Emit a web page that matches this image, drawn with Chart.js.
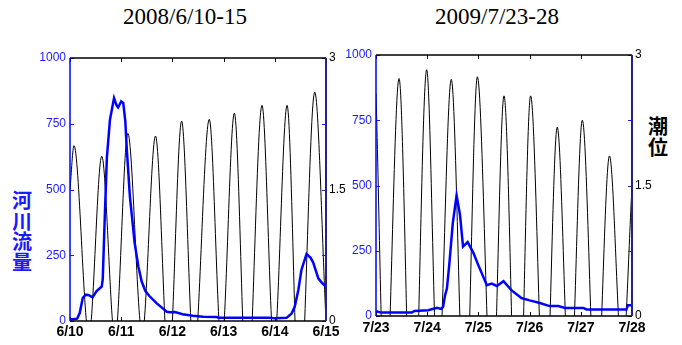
<!DOCTYPE html>
<html>
<head>
<meta charset="utf-8">
<script src="https://cdn.jsdelivr.net/npm/chart.js@4.4.1/dist/chart.umd.min.js"></script>
<style>
  body { margin: 0; width: 682px; height: 345px; position: relative; background: #fff; overflow: hidden; }
  canvas { position: absolute; top: 0; }
  .title { position: absolute; width: 200px; text-align: center; font-family: "Liberation Serif", serif; font-size: 23px; line-height: 23px; color: #000; }
  .ylab { position: absolute; font-family: "Noto Sans CJK JP", sans-serif; font-weight: bold; font-size: 20px; line-height: 20.5px; width: 22px; text-align: center; }
</style>
</head>
<body>
<div class="title" style="left:85px; top:5px;">2008/6/10-15</div>
<div class="title" style="left:397px; top:5px;">2009/7/23-28</div>
<div class="ylab" style="left:11px; top:190px; color:#1a1aff;">河<br>川<br>流<br>量</div>
<div class="ylab" style="left:647px; top:116px; color:#000;">潮<br>位</div>
<canvas id="chart2008" width="360" height="345" style="left:0;"></canvas>
<canvas id="chart2009" width="352" height="345" style="left:330px;"></canvas>
<script>
// x tick labels (one per day)
const days2008 = ["6/10", "6/11", "6/12", "6/13", "6/14", "6/15"];
const days2009 = ["7/23", "7/24", "7/25", "7/26", "7/27", "7/28"];

// 2008: river flow (left axis), time in days from 6/10
const flowT2008 = [0, 0.14, 0.19, 0.25, 0.31, 0.37, 0.44, 0.52, 0.62, 0.64, 0.68, 0.72, 0.78, 0.86, 0.91, 0.94, 1.00, 1.04, 1.08, 1.11, 1.17, 1.21, 1.26, 1.335, 1.40, 1.47, 1.55, 1.69, 1.80, 1.89, 1.95, 2.05, 2.20, 2.40, 2.60, 2.87, 2.90, 3.90, 4.00, 4.23, 4.33, 4.39, 4.46, 4.52, 4.62, 4.70, 4.75, 4.85, 4.92, 5.0];
const flow2008 = [6, 9, 30, 88, 100, 98, 90, 114, 131, 160, 400, 620, 765, 848, 820, 812, 835, 829, 760, 651, 473, 397, 300, 207, 150, 115, 95, 68, 50, 35, 33, 34, 26, 20, 16, 15, 12, 12, 10, 12, 29, 55, 118, 194, 255, 240, 222, 162, 145, 131];

// 2008: tide level (right axis), highs and lows
const tideT2008 = [0, 0.078, 0.37, 0.62, 0.88, 1.13, 1.41, 1.67, 1.93, 2.18, 2.42, 2.72, 2.96, 3.21, 3.46, 3.75, 3.985, 4.24, 4.48, 4.78, 5.0];
const tide2008 = [1.5, 2.0, -0.17, 1.88, -0.21, 2.14, -0.15, 2.11, -0.55, 2.28, -0.42, 2.30, -0.3, 2.37, -0.9, 2.46, -0.3, 2.46, -1.0, 2.61, 0.0];

// 2009: river flow, time in days from 7/23
const flowT2009 = [0, 0.10, 0.70, 0.75, 1.02, 1.12, 1.19, 1.27, 1.31, 1.35, 1.385, 1.43, 1.50, 1.574, 1.64, 1.70, 1.79, 1.90, 2.00, 2.165, 2.26, 2.36, 2.49, 2.65, 2.84, 3.00, 3.20, 3.39, 3.56, 3.69, 4.05, 4.11, 4.89, 4.92, 5.0];
const flow2009 = [18, 13, 13, 19, 22, 28, 31, 27, 35, 80, 105, 194, 356, 462, 388, 266, 283, 243, 194, 118, 124, 115, 133, 98, 69, 60, 50, 38, 38, 31, 31, 25, 25, 41, 41];

// 2009: tide level
const tideT2009 = [0, 0.18, 0.45, 0.715, 0.99, 1.21, 1.47, 1.74, 1.98, 2.27, 2.50, 2.77, 3.02, 3.30, 3.54, 3.79, 4.03, 4.30, 4.56, 4.81, 5.0];
const tide2009 = [2.56, -1.1, 2.73, -1.9, 2.83, -0.8, 2.72, -1.3, 2.75, -1.1, 2.53, -1.9, 2.53, -1.3, 2.17, -0.95, 2.25, -1.1, 1.84, -0.5, 1.48];

const flowTicks = [0, 250, 500, 750, 1000];
const tideTicks = [0, 1.5, 3];

function toPoints(xs, ys) {
  return xs.map((x, i) => ({ x: x, y: ys[i] }));
}

// box lines and the small inward tick marks
const frame = {
  id: "frame",
  afterDatasetsDraw(chart) {
    const { ctx, chartArea: a, scales } = chart;
    ctx.save();
    ctx.lineCap = "butt";
    // x ticks, top and bottom
    ctx.strokeStyle = "#000";
    ctx.lineWidth = 1;
    for (let d = 0; d <= 5; d++) {
      const px = Math.round(scales.x.getPixelForValue(d)) + 0.5;
      ctx.beginPath();
      ctx.moveTo(px, a.top); ctx.lineTo(px, a.top + 4);
      ctx.moveTo(px, a.bottom); ctx.lineTo(px, a.bottom - 4);
      ctx.stroke();
    }
    // flow ticks on both sides
    ctx.strokeStyle = "#1a1aff";
    flowTicks.forEach((v) => {
      const py = Math.round(scales.y.getPixelForValue(v)) + 0.5;
      ctx.beginPath();
      ctx.moveTo(a.left, py); ctx.lineTo(a.left + 4, py);
      ctx.moveTo(a.right, py); ctx.lineTo(a.right - 4, py);
      ctx.stroke();
    });
    ctx.strokeStyle = "#22228a";
    tideTicks.forEach((v) => {
      const py = Math.round(scales.y2.getPixelForValue(v)) + 0.5;
      ctx.beginPath();
      ctx.moveTo(a.right, py); ctx.lineTo(a.right - 4, py);
      ctx.stroke();
    });
    // frame
    ctx.strokeStyle = "#000";
    ctx.lineWidth = 1.3;
    ctx.beginPath();
    ctx.moveTo(a.left, a.top); ctx.lineTo(a.right, a.top);
    ctx.moveTo(a.left, a.bottom); ctx.lineTo(a.right, a.bottom);
    ctx.stroke();
    ctx.strokeStyle = "#0000ff";
    ctx.lineWidth = 1.5;
    ctx.beginPath();
    ctx.moveTo(a.left, a.top); ctx.lineTo(a.left, a.bottom);
    ctx.stroke();
    ctx.strokeStyle = "#22228a";
    ctx.lineWidth = 2;
    ctx.beginPath();
    ctx.moveTo(a.right, a.top); ctx.lineTo(a.right, a.bottom);
    ctx.stroke();
    ctx.restore();
  },
};

function buildChart(id, box, dayLabels, flowT, flow, tideT, tide) {
  const ctx = document.getElementById(id);
  return new Chart(ctx, {
    type: "line",
    data: {
      datasets: [
        {
          data: toPoints(flowT, flow),
          yAxisID: "y",
          borderColor: "#0000ff",
          borderWidth: 2.5,
          pointRadius: 0,
          tension: 0,
          order: 0,
        },
        {
          data: toPoints(tideT, tide),
          yAxisID: "y2",
          borderColor: "#000",
          borderWidth: 1,
          pointRadius: 0,
          cubicInterpolationMode: "monotone",
          order: 1,
        },
      ],
    },
    options: {
      responsive: false,
      animation: false,
      devicePixelRatio: 1,
      layout: { padding: { top: box.top, left: 0, right: 0, bottom: 0 } },
      plugins: { legend: { display: false }, tooltip: { enabled: false } },
      scales: {
        x: {
          type: "linear",
          min: 0,
          max: 5,
          grid: { display: false, drawTicks: false },
          border: { display: false },
          ticks: {
            stepSize: 1,
            autoSkip: false,
            maxRotation: 0,
            padding: box.xPad,
            color: "#000",
            font: { family: "Liberation Sans", size: 14, weight: "bold" },
            callback: (v) => dayLabels[v],
          },
          afterFit: (s) => { s.height = box.xH; },
        },
        y: {
          position: "left",
          min: 0,
          max: 1000,
          grid: { display: false, drawTicks: false },
          border: { display: false },
          ticks: {
            stepSize: 250,
            padding: 4,
            color: "#1a1aff",
            font: { family: "Liberation Sans", size: 12 },
            callback: (v) => String(v),
          },
          afterFit: (s) => { s.width = box.yW; },
        },
        y2: {
          position: "right",
          min: 0,
          max: 3,
          grid: { display: false, drawTicks: false },
          border: { display: false },
          ticks: {
            stepSize: 1.5,
            padding: 3,
            color: "#000",
            font: { family: "Liberation Sans", size: 12 },
            callback: (v) => String(v),
          },
          afterFit: (s) => { s.width = box.y2W; },
        },
      },
    },
    plugins: [frame],
  });
}

buildChart("chart2008", { top: 58, xH: 24, xPad: 3, yW: 70, y2W: 34 }, days2008, flowT2008, flow2008, tideT2008, tide2008);
buildChart("chart2009", { top: 55, xH: 29, xPad: 4, yW: 46, y2W: 50 }, days2009, flowT2009, flow2009, tideT2009, tide2009);
</script>
</body>
</html>
